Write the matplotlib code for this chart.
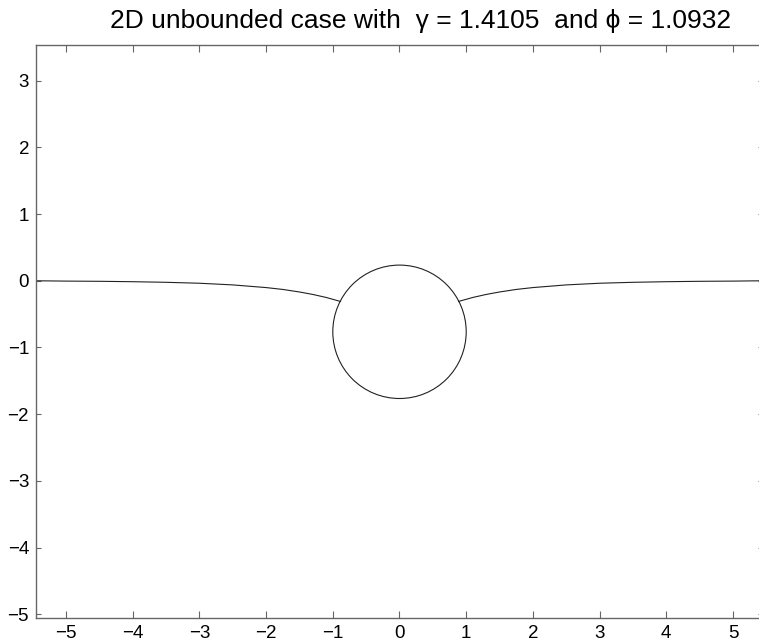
import numpy as np
import matplotlib
matplotlib.use("Agg")
import matplotlib.pyplot as plt
from matplotlib.patches import Circle

plt.rcParams['font.family'] = ['Liberation Sans', 'DejaVu Sans']

# meniscus profile, left half, right half is its mirror
menx = [-5.45, -5.0, -4.5, -4.0, -3.5, -3.0, -2.5, -2.0, -1.75, -1.5, -1.3, -1.1, -0.885]
meny = [0.0, -0.005, -0.008, -0.014, -0.023, -0.037, -0.062, -0.102, -0.130, -0.168, -0.205, -0.250, -0.31]

# the cylinder
cx, cy = 0.0, -0.765
radius = 1.0

xticks = [-5, -4, -3, -2, -1, 0, 1, 2, 3, 4, 5]
yticks = [-5, -4, -3, -2, -1, 0, 1, 2, 3]
title = "2D unbounded case with  \u03b3 = 1.4105  and \u03d5 = 1.0932"

fig = plt.figure(figsize=(7.59, 6.43), dpi=100)
ax = fig.add_axes([36 / 759, 24.7 / 643, 727 / 759, 573 / 643])

line_col = '#222222'
ax.plot(menx, meny, color=line_col, lw=0.8)
ax.plot([-v for v in menx], meny, color=line_col, lw=0.8)
ax.add_patch(Circle((cx, cy), radius, fill=False, ec=line_col, lw=0.8))

ax.set_xlim(-5.45, 5.45)
ax.set_ylim(-5.06, 3.53)
ax.set_xticks(xticks)
ax.set_yticks(yticks)
ax.set_xticklabels([str(t).replace('-', '\u2212') for t in xticks])
ax.set_yticklabels([str(t).replace('-', '\u2212') for t in yticks])

for s in ax.spines.values():
    s.set_color('#666666')
    s.set_linewidth(1.0)
ax.spines['right'].set_visible(False)
ax.tick_params(axis='x', direction='in', length=4.7, width=0.8, color='#666666',
               top=True, labelsize=13.5, pad=5)
ax.tick_params(axis='y', direction='in', length=3.3, width=0.8, color='#666666',
               right=True, labelsize=13.5, pad=5)

fig.text(421 / 759, 1 - 21 / 643, title, ha='center', va='center', fontsize=19)

fig.savefig('out.png', dpi=100)
